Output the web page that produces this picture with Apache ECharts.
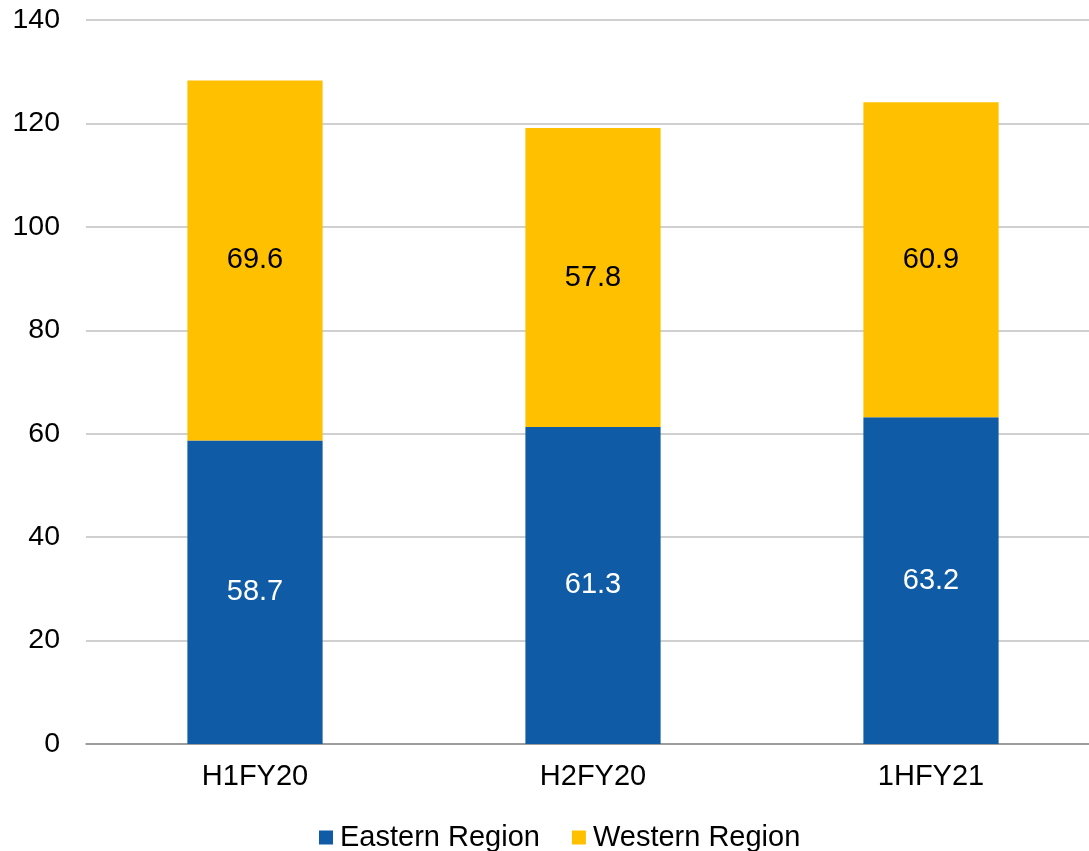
<!DOCTYPE html>
<html><head><meta charset="utf-8">
<script src="https://cdn.jsdelivr.net/npm/echarts@6/dist/echarts.min.js"></script>
<style>html,body{margin:0;padding:0;background:#fff}#c{width:1089px;height:851px}</style>
</head><body><div id="c"></div>
<script>
const categories = ['H1FY20', 'H2FY20', '1HFY21'];
const eastern = [58.7, 61.3, 63.2];
const western = [69.6, 57.8, 60.9];
const yTicks = { min: 0, max: 140, interval: 20 };

const chart = echarts.init(document.getElementById('c'), null, { renderer: 'canvas' });
const font = 'Liberation Sans, Arial, sans-serif';
chart.setOption({
  animation: false,
  textStyle: { fontFamily: font },
  grid: { left: 86, right: -11, top: 20, bottom: 107, outerBoundsMode: 'none', containLabel: false },
  legend: {
    bottom: -6, left: 314, itemWidth: 14, itemHeight: 14, itemGap: 32,
    icon: 'rect',
    textStyle: { fontSize: 29, color: '#000', fontFamily: font, padding: [0, 0, 0, 2] },
    data: ['Eastern Region', 'Western Region']
  },
  xAxis: {
    type: 'category', data: categories,
    axisLine: { lineStyle: { color: '#8c8c8c', width: 1.5 } },
    axisTick: { show: false },
    axisLabel: { fontSize: 29, color: '#000', margin: 18, fontFamily: font }
  },
  yAxis: {
    type: 'value', min: yTicks.min, max: yTicks.max, interval: yTicks.interval,
    axisLine: { show: false }, axisTick: { show: false },
    axisLabel: { fontSize: 28.5, color: '#000', margin: 26, fontFamily: font },
    splitLine: { lineStyle: { color: '#c0c0c0', width: 1.5 } }
  },
  series: [
    { name: 'Eastern Region', type: 'bar', stack: 't', data: eastern, barWidth: '40%',
      itemStyle: { color: '#0f5ba6' },
      label: { show: true, position: 'inside', color: '#fff', fontSize: 29, fontFamily: font } },
    { name: 'Western Region', type: 'bar', stack: 't', data: western, barWidth: '40%',
      itemStyle: { color: '#ffc000' },
      label: { show: true, position: 'inside', color: '#000', fontSize: 29, fontFamily: font } }
  ]
});
</script></body></html>
